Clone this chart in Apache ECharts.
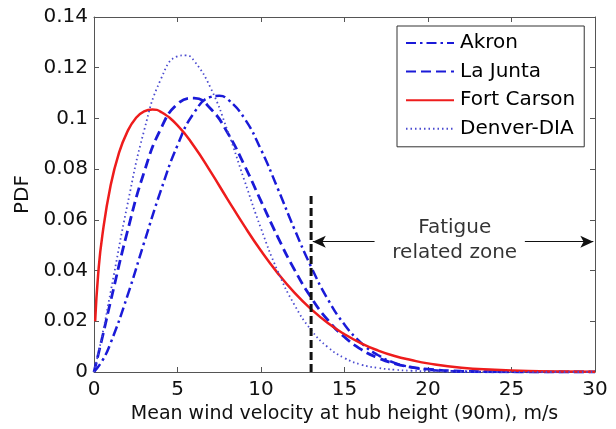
<!DOCTYPE html>
<html>
<head>
<meta charset="utf-8">
<script src="https://cdn.jsdelivr.net/npm/echarts@6/dist/echarts.min.js"></script>
<style>
html,body{margin:0;padding:0;background:#fff;}
#chart{width:616px;height:429px;}
</style>
</head>
<body>
<div id="chart"></div>
<script>
// ---- data ----
const seriesNames = ['Akron', 'La Junta', 'Fort Carson', 'Denver-DIA'];

const akronX = [0,0.5,1,2,3,4,5,6,7,7.5,8,9,10,11,12,13,14,15,16,17,18,19,20,22,24,26,28,30];
const akronY = [0,0.0045,0.0115,0.0300,0.0510,0.0715,0.0894,0.1023,0.1085,0.1089,0.1076,0.1001,0.0877,0.0724,0.0564,0.0415,0.0287,0.0187,0.0115,0.0067,0.0036,0.0019,0.0009,0.0002,0,0,0,0];

const laJuntaX = [0,0.5,1,2,3,4,5,6,7,8,9,10,11,12,13,14,15,16,17,18,19,20,22,24,26,28,30];
const laJuntaY = [0,0.0137,0.0280,0.0554,0.0788,0.0959,0.1057,0.1080,0.1037,0.0943,0.0816,0.0674,0.0533,0.0404,0.0294,0.0205,0.0138,0.0089,0.0056,0.0033,0.0019,0.0011,0.0003,0.0001,0,0,0];

const fortCarsonX = [0.07,0.25,0.5,1,1.5,2,2.5,3,3.5,4,5,6,7,8,9,10,11,12,13,14,15,16,17,18,19,20,22,24,26,28,30];
const fortCarsonY = [0.0200,0.0386,0.0539,0.0737,0.0865,0.0948,0.1001,0.1028,0.1035,0.1026,0.0973,0.0889,0.0788,0.0681,0.0576,0.0478,0.0390,0.0313,0.0248,0.0193,0.0149,0.0113,0.0085,0.0063,0.0047,0.0034,0.0017,0.0009,0.0004,0.0002,0.0001];

const denverX = [0,0.5,1,2,3,4,5,5.5,6,7,8,9,10,11,12,13,14,15,16,17,18,19,20,22,24,26,28,30];
const denverY = [0,0.0147,0.0317,0.0659,0.0952,0.1154,0.1245,0.1249,0.1227,0.1118,0.0951,0.0757,0.0566,0.0398,0.0265,0.0166,0.0098,0.0055,0.0029,0.0016,0.0009,0.0005,0.0003,0.0001,0,0,0,0];

// fatigue zone annotation (data units)
const fatigueBoundaryX = [13, 13];
const fatigueBoundaryY = [0, 0.071];
const arrowLeft = [[16.8, 0.0514], [13.1, 0.0514]];
const arrowRight = [[25.8, 0.0514], [29.9, 0.0514]];
const fatigueLabelPos = [21.6, 0.0519];
const fatigueLabelText = 'Fatigue\nrelated zone';

const xTicks = {min: 0, max: 30, interval: 5};
const yTicks = {min: 0, max: 0.14, interval: 0.02};

const xTitle = 'Mean wind velocity at hub height (90m), m/s';
const yTitle = 'PDF';

function pairs(xs, ys) { return xs.map((x, i) => [x, ys[i]]); }

const FONT = 'DejaVu Sans';
const axisColor = '#555';

const chart = echarts.init(document.getElementById('chart'), null, {renderer: 'canvas'});

const baseX = {
  type: 'value', min: xTicks.min, max: xTicks.max, interval: xTicks.interval,
  axisLine: {show: true, onZero: false, lineStyle: {color: axisColor, width: 1}},
  axisTick: {show: true, inside: true, length: 5, lineStyle: {color: axisColor}},
  splitLine: {show: false}
};
const baseY = {
  type: 'value', min: yTicks.min, max: yTicks.max, interval: yTicks.interval,
  axisLine: {show: true, onZero: false, lineStyle: {color: axisColor, width: 1}},
  axisTick: {show: true, inside: true, length: 5, lineStyle: {color: axisColor}},
  splitLine: {show: false}
};

const option = {
  animation: false,
  backgroundColor: '#fff',
  textStyle: {fontFamily: FONT},
  grid: {left: 94, right: 21, top: 17, bottom: 57},
  legend: {
    data: seriesNames,
    orient: 'vertical',
    left: 397, top: 26,
    padding: [7, 9, 8, 8],
    itemWidth: 48, itemHeight: 20, itemGap: 8.6,
    backgroundColor: '#fff',
    borderColor: '#333', borderWidth: 1, borderRadius: 0,
    itemStyle: {opacity: 0},
    textStyle: {fontSize: 20, color: '#000', fontFamily: FONT, padding: [0, 0, 0, 1]}
  },
  xAxis: [
    Object.assign({}, baseX, {
      position: 'bottom',
      axisLabel: {fontSize: 20, color: '#111', margin: 8, fontFamily: FONT},
      name: xTitle, nameLocation: 'middle', nameGap: 31,
      nameTextStyle: {fontSize: 19, color: '#111', fontFamily: FONT}
    }),
    Object.assign({}, baseX, {position: 'top', axisLabel: {show: false}})
  ],
  yAxis: [
    Object.assign({}, baseY, {
      position: 'left',
      axisLabel: {fontSize: 20, color: '#111', margin: 6, fontFamily: FONT},
      name: yTitle, nameLocation: 'middle', nameGap: 52,
      nameTextStyle: {fontSize: 20, color: '#111', fontFamily: FONT}
    }),
    Object.assign({}, baseY, {position: 'right', axisLabel: {show: false}})
  ],
  series: [
    {
      name: 'Akron', type: 'line', data: pairs(akronX, akronY),
      symbol: 'none', smooth: true,
      lineStyle: {color: '#1a1ad8', width: 2.5, type: [10, 4, 2.5, 4]},
      itemStyle: {color: '#1a1ad8'}
    },
    {
      name: 'La Junta', type: 'line', data: pairs(laJuntaX, laJuntaY),
      symbol: 'none', smooth: true,
      lineStyle: {color: '#1a1ad8', width: 2.8, type: [10, 5]},
      itemStyle: {color: '#1a1ad8'}
    },
    {
      name: 'Fort Carson', type: 'line', data: pairs(fortCarsonX, fortCarsonY),
      symbol: 'none', smooth: true,
      lineStyle: {color: '#ee1c1c', width: 2.5, type: 'solid'},
      itemStyle: {color: '#ee1c1c'}
    },
    {
      name: 'Denver-DIA', type: 'line', data: pairs(denverX, denverY),
      symbol: 'none', smooth: true,
      lineStyle: {color: '#4a4ad0', width: 1.8, type: [1.5, 3]},
      itemStyle: {color: '#4a4ad0'}
    },
    {
      name: 'fatigueBoundary', type: 'line',
      data: pairs(fatigueBoundaryX, fatigueBoundaryY),
      symbol: 'none', silent: true,
      lineStyle: {color: '#111', width: 3, type: [8, 4]},
      markLine: {
        silent: true,
        symbol: ['none', 'arrow'], symbolSize: [9, 13],
        label: {show: false},
        lineStyle: {color: '#111', width: 1.2, type: 'solid'},
        data: [
          [{coord: arrowLeft[0]}, {coord: arrowLeft[1]}],
          [{coord: arrowRight[0]}, {coord: arrowRight[1]}]
        ]
      }
    },
    {
      name: 'fatigueLabel', type: 'scatter', silent: true,
      data: [fatigueLabelPos], symbolSize: 0,
      label: {
        show: true, position: 'inside', formatter: fatigueLabelText,
        fontSize: 20, lineHeight: 25, color: '#000', fontFamily: FONT, align: 'center'
      }
    }
  ]
};
chart.setOption(option);
</script>
</body>
</html>
